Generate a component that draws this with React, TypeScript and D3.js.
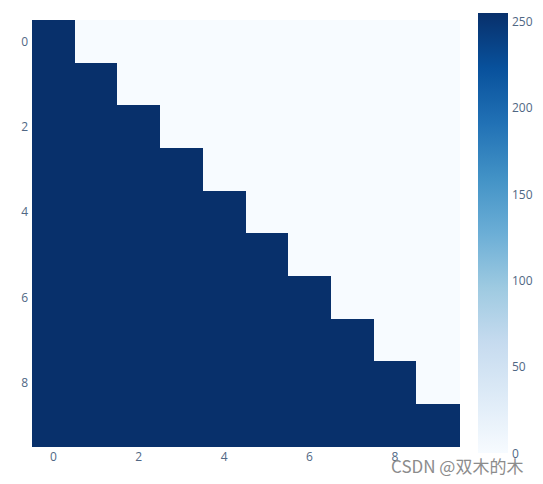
import React from 'react';
import * as d3 from 'd3';

// 10x10 matrix, lower triangle filled
const zRows: number[][] = [
  [255, 0, 0, 0, 0, 0, 0, 0, 0, 0],
  [255, 255, 0, 0, 0, 0, 0, 0, 0, 0],
  [255, 255, 255, 0, 0, 0, 0, 0, 0, 0],
  [255, 255, 255, 255, 0, 0, 0, 0, 0, 0],
  [255, 255, 255, 255, 255, 0, 0, 0, 0, 0],
  [255, 255, 255, 255, 255, 255, 0, 0, 0, 0],
  [255, 255, 255, 255, 255, 255, 255, 0, 0, 0],
  [255, 255, 255, 255, 255, 255, 255, 255, 0, 0],
  [255, 255, 255, 255, 255, 255, 255, 255, 255, 0],
  [255, 255, 255, 255, 255, 255, 255, 255, 255, 255],
];
const xIdx = [0, 1, 2, 3, 4, 5, 6, 7, 8, 9];
const yIdx = [0, 1, 2, 3, 4, 5, 6, 7, 8, 9];
const xTicks = [0, 2, 4, 6, 8];
const yTicks = [0, 2, 4, 6, 8];
const cbTicks = [0, 50, 100, 150, 200, 250];
const zMin = 0;
const zMax = 255;

// plotly "Blues"
const bluesStops = [0, 0.125, 0.25, 0.375, 0.5, 0.625, 0.75, 0.875, 1];
const bluesColors = [
  'rgb(247,251,255)', 'rgb(222,235,247)', 'rgb(198,219,239)', 'rgb(158,202,225)',
  'rgb(107,174,214)', 'rgb(66,146,198)', 'rgb(33,113,181)', 'rgb(8,81,156)', 'rgb(8,48,107)',
];

const W = 543;
const H = 484;
const font = '"Open Sans", "DejaVu Sans", sans-serif';
const tickColor = '#506784';

export default function App() {
  const x = d3.scaleBand<number>().domain(xIdx).range([32, 459]);
  const y = d3.scaleBand<number>().domain(yIdx).range([20, 446.5]);

  const norm = d3.scaleLinear().domain([zMin, zMax]).range([0, 1]);
  const color = d3
    .scaleLinear<string>()
    .domain(bluesStops)
    .range(bluesColors)
    .interpolate(d3.interpolateRgb);

  const cb = d3.scaleLinear().domain([zMin, zMax]).range([453, 13]);
  const cbX = 478;
  const cbW = 30;

  return (
    <div style={{ margin: '-8px' }}>
      <svg width={W} height={H} style={{ display: 'block', background: '#fff' }}>
        <defs>
          <linearGradient id="cbgrad" x1="0" y1="1" x2="0" y2="0">
            {bluesStops.map((s, i) => (
              <stop key={i} offset={s} stopColor={bluesColors[i]} />
            ))}
          </linearGradient>
        </defs>

        <g shapeRendering="crispEdges">
          {zRows.map((row, r) =>
            row.map((v, c) => (
              <rect
                key={`${r}-${c}`}
                x={x(xIdx[c])!}
                y={y(yIdx[r])!}
                width={x.bandwidth() + 0.5}
                height={y.bandwidth() + 0.5}
                fill={color(norm(v))}
              />
            ))
          )}
        </g>

        <g fontFamily={font} fontSize={12} fill={tickColor}>
          {xTicks.map((t) => (
            <text key={`x${t}`} x={x(t)! + x.bandwidth() / 2} y={461} textAnchor="middle">
              {t}
            </text>
          ))}
          {yTicks.map((t) => (
            <text
              key={`y${t}`}
              x={28}
              y={y(t)! + y.bandwidth() / 2}
              textAnchor="end"
              dominantBaseline="central"
            >
              {t}
            </text>
          ))}
        </g>

        <rect x={cbX} y={cb(zMax)} width={cbW} height={cb(zMin) - cb(zMax)} fill="url(#cbgrad)" />
        <g fontFamily={font} fontSize={12} fill={tickColor}>
          {cbTicks.map((t) => (
            <text key={`c${t}`} x={cbX + cbW + 4} y={cb(t)} dominantBaseline="central">
              {t}
            </text>
          ))}
        </g>

        <text
          x={391}
          y={473}
          fontFamily='"Noto Sans CJK SC", sans-serif'
          fontSize={17}
          fill="#8c8c8c"
        >
          CSDN @双木的木
        </text>
      </svg>
    </div>
  );
}
